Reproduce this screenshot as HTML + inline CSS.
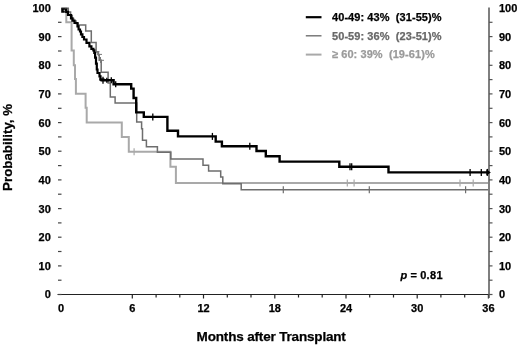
<!DOCTYPE html>
<html><head><meta charset="utf-8"><style>
html,body{margin:0;padding:0;background:#fff;}
body{width:520px;height:345px;overflow:hidden;}
svg{display:block;filter:grayscale(100%);}
text{font-family:"Liberation Sans",sans-serif;font-weight:bold;font-size:11px;fill:#000;stroke:#000;stroke-width:0.25px;}
</style></head><body>
<svg width="520" height="345" viewBox="0 0 520 345">
<rect width="520" height="345" fill="#fff"/>
<line x1="57.5" y1="294.5" x2="489" y2="294.5" stroke="#222" stroke-width="1.2"/><line x1="132.3" y1="294.5" x2="132.3" y2="298.5" stroke="#222" stroke-width="1.2"/><line x1="156.1" y1="294.5" x2="156.1" y2="297.5" stroke="#222" stroke-width="1.2"/><line x1="179.8" y1="294.5" x2="179.8" y2="297.5" stroke="#222" stroke-width="1.2"/><line x1="203.5" y1="294.5" x2="203.5" y2="298.5" stroke="#222" stroke-width="1.2"/><line x1="227.3" y1="294.5" x2="227.3" y2="297.5" stroke="#222" stroke-width="1.2"/><line x1="251.0" y1="294.5" x2="251.0" y2="297.5" stroke="#222" stroke-width="1.2"/><line x1="274.8" y1="294.5" x2="274.8" y2="298.5" stroke="#222" stroke-width="1.2"/><line x1="298.5" y1="294.5" x2="298.5" y2="297.5" stroke="#222" stroke-width="1.2"/><line x1="322.2" y1="294.5" x2="322.2" y2="297.5" stroke="#222" stroke-width="1.2"/><line x1="346.0" y1="294.5" x2="346.0" y2="298.5" stroke="#222" stroke-width="1.2"/><line x1="369.7" y1="294.5" x2="369.7" y2="297.5" stroke="#222" stroke-width="1.2"/><line x1="393.5" y1="294.5" x2="393.5" y2="297.5" stroke="#222" stroke-width="1.2"/><line x1="417.2" y1="294.5" x2="417.2" y2="298.5" stroke="#222" stroke-width="1.2"/><line x1="440.9" y1="294.5" x2="440.9" y2="297.5" stroke="#222" stroke-width="1.2"/><line x1="464.7" y1="294.5" x2="464.7" y2="297.5" stroke="#222" stroke-width="1.2"/><line x1="488.4" y1="294.5" x2="488.4" y2="298.5" stroke="#222" stroke-width="1.2"/><line x1="489" y1="7.5" x2="489" y2="298" stroke="#555" stroke-width="1.5"/><line x1="489" y1="294.5" x2="492.5" y2="294.5" stroke="#555" stroke-width="1.2"/><line x1="489" y1="280.2" x2="492.5" y2="280.2" stroke="#555" stroke-width="1.2"/><line x1="489" y1="265.9" x2="492.5" y2="265.9" stroke="#555" stroke-width="1.2"/><line x1="489" y1="251.5" x2="492.5" y2="251.5" stroke="#555" stroke-width="1.2"/><line x1="489" y1="237.2" x2="492.5" y2="237.2" stroke="#555" stroke-width="1.2"/><line x1="489" y1="222.9" x2="492.5" y2="222.9" stroke="#555" stroke-width="1.2"/><line x1="489" y1="208.6" x2="492.5" y2="208.6" stroke="#555" stroke-width="1.2"/><line x1="489" y1="194.2" x2="492.5" y2="194.2" stroke="#555" stroke-width="1.2"/><line x1="489" y1="179.9" x2="492.5" y2="179.9" stroke="#555" stroke-width="1.2"/><line x1="489" y1="165.6" x2="492.5" y2="165.6" stroke="#555" stroke-width="1.2"/><line x1="489" y1="151.2" x2="492.5" y2="151.2" stroke="#555" stroke-width="1.2"/><line x1="489" y1="136.9" x2="492.5" y2="136.9" stroke="#555" stroke-width="1.2"/><line x1="489" y1="122.6" x2="492.5" y2="122.6" stroke="#555" stroke-width="1.2"/><line x1="489" y1="108.3" x2="492.5" y2="108.3" stroke="#555" stroke-width="1.2"/><line x1="489" y1="93.9" x2="492.5" y2="93.9" stroke="#555" stroke-width="1.2"/><line x1="489" y1="79.6" x2="492.5" y2="79.6" stroke="#555" stroke-width="1.2"/><line x1="489" y1="65.3" x2="492.5" y2="65.3" stroke="#555" stroke-width="1.2"/><line x1="489" y1="51.0" x2="492.5" y2="51.0" stroke="#555" stroke-width="1.2"/><line x1="489" y1="36.6" x2="492.5" y2="36.6" stroke="#555" stroke-width="1.2"/><line x1="489" y1="22.3" x2="492.5" y2="22.3" stroke="#555" stroke-width="1.2"/><line x1="58" y1="294.5" x2="61.5" y2="294.5" stroke="#444" stroke-width="1.2"/><line x1="58" y1="280.2" x2="61.5" y2="280.2" stroke="#444" stroke-width="1.2"/><line x1="58" y1="265.9" x2="61.5" y2="265.9" stroke="#444" stroke-width="1.2"/><line x1="58" y1="251.5" x2="61.5" y2="251.5" stroke="#444" stroke-width="1.2"/><line x1="58" y1="237.2" x2="61.5" y2="237.2" stroke="#444" stroke-width="1.2"/><line x1="58" y1="222.9" x2="61.5" y2="222.9" stroke="#444" stroke-width="1.2"/><line x1="58" y1="208.6" x2="61.5" y2="208.6" stroke="#444" stroke-width="1.2"/><line x1="58" y1="194.2" x2="61.5" y2="194.2" stroke="#444" stroke-width="1.2"/><line x1="58" y1="179.9" x2="61.5" y2="179.9" stroke="#444" stroke-width="1.2"/><line x1="58" y1="165.6" x2="61.5" y2="165.6" stroke="#444" stroke-width="1.2"/><line x1="58" y1="151.2" x2="61.5" y2="151.2" stroke="#444" stroke-width="1.2"/><line x1="58" y1="136.9" x2="61.5" y2="136.9" stroke="#444" stroke-width="1.2"/><line x1="58" y1="122.6" x2="61.5" y2="122.6" stroke="#444" stroke-width="1.2"/><line x1="58" y1="108.3" x2="61.5" y2="108.3" stroke="#444" stroke-width="1.2"/><line x1="58" y1="93.9" x2="61.5" y2="93.9" stroke="#444" stroke-width="1.2"/><line x1="58" y1="79.6" x2="61.5" y2="79.6" stroke="#444" stroke-width="1.2"/><line x1="58" y1="65.3" x2="61.5" y2="65.3" stroke="#444" stroke-width="1.2"/><line x1="58" y1="51.0" x2="61.5" y2="51.0" stroke="#444" stroke-width="1.2"/><line x1="58" y1="36.6" x2="61.5" y2="36.6" stroke="#444" stroke-width="1.2"/><line x1="58" y1="22.3" x2="61.5" y2="22.3" stroke="#444" stroke-width="1.2"/>
<g><text x="50.8" y="298.4" text-anchor="end">0</text><text x="499" y="298.4" text-anchor="start">0</text><text x="50.8" y="269.8" text-anchor="end">10</text><text x="499" y="269.8" text-anchor="start">10</text><text x="50.8" y="241.1" text-anchor="end">20</text><text x="499" y="241.1" text-anchor="start">20</text><text x="50.8" y="212.5" text-anchor="end">30</text><text x="499" y="212.5" text-anchor="start">30</text><text x="50.8" y="183.8" text-anchor="end">40</text><text x="499" y="183.8" text-anchor="start">40</text><text x="50.8" y="155.2" text-anchor="end">50</text><text x="499" y="155.2" text-anchor="start">50</text><text x="50.8" y="126.5" text-anchor="end">60</text><text x="499" y="126.5" text-anchor="start">60</text><text x="50.8" y="97.8" text-anchor="end">70</text><text x="499" y="97.8" text-anchor="start">70</text><text x="50.8" y="69.2" text-anchor="end">80</text><text x="499" y="69.2" text-anchor="start">80</text><text x="50.8" y="40.5" text-anchor="end">90</text><text x="499" y="40.5" text-anchor="start">90</text><text x="50.8" y="11.9" text-anchor="end">100</text><text x="499" y="11.9" text-anchor="start">100</text><text x="61.1" y="312.3" text-anchor="middle">0</text><text x="132.3" y="312.3" text-anchor="middle">6</text><text x="203.5" y="312.3" text-anchor="middle">12</text><text x="274.8" y="312.3" text-anchor="middle">18</text><text x="346.0" y="312.3" text-anchor="middle">24</text><text x="417.2" y="312.3" text-anchor="middle">30</text><text x="488.4" y="312.3" text-anchor="middle">36</text></g>
<text transform="translate(11.8 190.9) rotate(-90)" style="font-size:13.3px">Probability, %</text>
<text x="196.6" y="341" style="font-size:13.5px;letter-spacing:-0.17px">Months after Transplant</text>
<text x="400.6" y="278.5"><tspan style="font-style:italic">p</tspan> =</text><text x="420.2" y="278.5" style="letter-spacing:0.3px">0.81</text>
<!-- legend -->
<line x1="305.8" y1="17.2" x2="321.5" y2="17.2" stroke="#000" stroke-width="2.2"/>
<line x1="305.8" y1="35.8" x2="321.5" y2="35.8" stroke="#707070" stroke-width="1.4"/>
<line x1="305.8" y1="54.6" x2="321.5" y2="54.6" stroke="#a9a9a9" stroke-width="2"/>
<text x="332" y="21.2" style="white-space:pre;letter-spacing:0.07px">40-49: 43%  (31-55)%</text>
<text x="332" y="39.7" style="white-space:pre;letter-spacing:0.07px;fill:#686868;stroke:#686868">50-59: 36%  (23-51)%</text>
<text x="332" y="58" style="white-space:pre;letter-spacing:0.07px;fill:#9a9a9a;stroke:#9a9a9a">≥ 60: 39%  (19-61)%</text>
<!-- curves -->
<path d="M61.3 8.3H66.3V22.3H71.6V50.4H73.8V65.2H75V79.1H75.9V93.8H85.6V107.8H86.7V122.6H121.8V137H128.8V151.7H170.4V166.8H175.9V183.1H488" fill="none" stroke="#a9a9a9" stroke-width="2"/>
<line x1="134.1" y1="148.2" x2="134.1" y2="155.2" stroke="#a9a9a9" stroke-width="1.2"/><line x1="347.3" y1="179.6" x2="347.3" y2="186.6" stroke="#a9a9a9" stroke-width="1.2"/><line x1="354.1" y1="179.6" x2="354.1" y2="186.6" stroke="#a9a9a9" stroke-width="1.2"/><line x1="460" y1="179.6" x2="460" y2="186.6" stroke="#a9a9a9" stroke-width="1.2"/><line x1="473.2" y1="179.6" x2="473.2" y2="186.6" stroke="#a9a9a9" stroke-width="1.2"/>
<path d="M61.3 8.2H68.3V12H70.6V15.6H72.3V18.4H73.6V21H76V23.6H78V25.1H85.7V31H91.3V42.6H96.1V51.8H98V54.5H99.2V60.2H101.2V72.3H108.1V83H110.3V97.1H115.1V103.1H136.7V122H141.6V128.7H142.5V140.3H146.4V146.7H157.4V152.3H170.8V158.9H203V165.3H208.6V171.1H220.7V176.9H222.8V183.8H241.2V189.8H488" fill="none" stroke="#6e6e6e" stroke-width="1.5"/>
<line x1="283.3" y1="186.3" x2="283.3" y2="193.3" stroke="#6e6e6e" stroke-width="1.2"/><line x1="369.3" y1="186.3" x2="369.3" y2="193.3" stroke="#6e6e6e" stroke-width="1.2"/><line x1="465.6" y1="186.3" x2="465.6" y2="193.3" stroke="#6e6e6e" stroke-width="1.2"/><path d="M96 51.8H99.6M97.5 54.4H102M99 60.3H104M98.5 51V56M100.5 57V63" stroke="#7a7a7a" stroke-width="1"/>
<path d="M64.5 9.6H66.2V11.8H68V15H71V18.4H72.4V20.6H74.5V23H77.5V26.4H78.6V29.5H80V31.5H81V34.4H82.4V37H84V39.5H86.5V42.9H89.4V46.4H91.4V48.8H93.4V50.3H94.3V52.8H95.1V57.7H96V63.6H96.8V69.5H97.5V73H99.5V76.4H100.5V80.2" fill="none" stroke="#000" stroke-width="2.2"/><path d="M100.5 80.2H113.6V84.3H131.2V88.6H133.6V98H136.2V112.4H143.8V116.9H167.4V130.8H178V136.4H215.7V141.6H221.9V146.2H256.5V151H265.8V156.3H279.6V161.6H339.3V166.8H388.5V172.4H489" fill="none" stroke="#000" stroke-width="2.4"/>
<line x1="103" y1="76.7" x2="103" y2="83.7" stroke="#000" stroke-width="1.3"/><line x1="106.8" y1="77.7" x2="106.8" y2="82.7" stroke="#000" stroke-width="1.3"/><line x1="111.3" y1="77.2" x2="111.3" y2="83.2" stroke="#000" stroke-width="1.3"/><line x1="115.7" y1="81.3" x2="115.7" y2="87.3" stroke="#000" stroke-width="1.3"/><line x1="152.8" y1="113.4" x2="152.8" y2="120.4" stroke="#000" stroke-width="1.3"/><line x1="212.4" y1="132.9" x2="212.4" y2="139.9" stroke="#000" stroke-width="1.3"/><line x1="249.8" y1="142.7" x2="249.8" y2="149.7" stroke="#000" stroke-width="1.3"/><line x1="350" y1="163.2" x2="350" y2="170.2" stroke="#000" stroke-width="1.3"/><line x1="351.7" y1="163.2" x2="351.7" y2="170.2" stroke="#000" stroke-width="1.3"/><line x1="470.1" y1="168.9" x2="470.1" y2="175.9" stroke="#000" stroke-width="1.3"/><line x1="481.3" y1="168.9" x2="481.3" y2="175.9" stroke="#000" stroke-width="1.3"/><line x1="487.4" y1="168.9" x2="487.4" y2="175.9" stroke="#000" stroke-width="1.3"/>
<path d="M61.2 8.3H64.8V9.8H63.8V11H64.8V12.7H61.2Z" fill="#000"/><path d="M99.5 79.6H104.5" stroke="#000" stroke-width="2.6"/><path d="M486.3 169.3L490.8 172.4L486.3 175.5Z" fill="#000"/>
</svg>
</body></html>
